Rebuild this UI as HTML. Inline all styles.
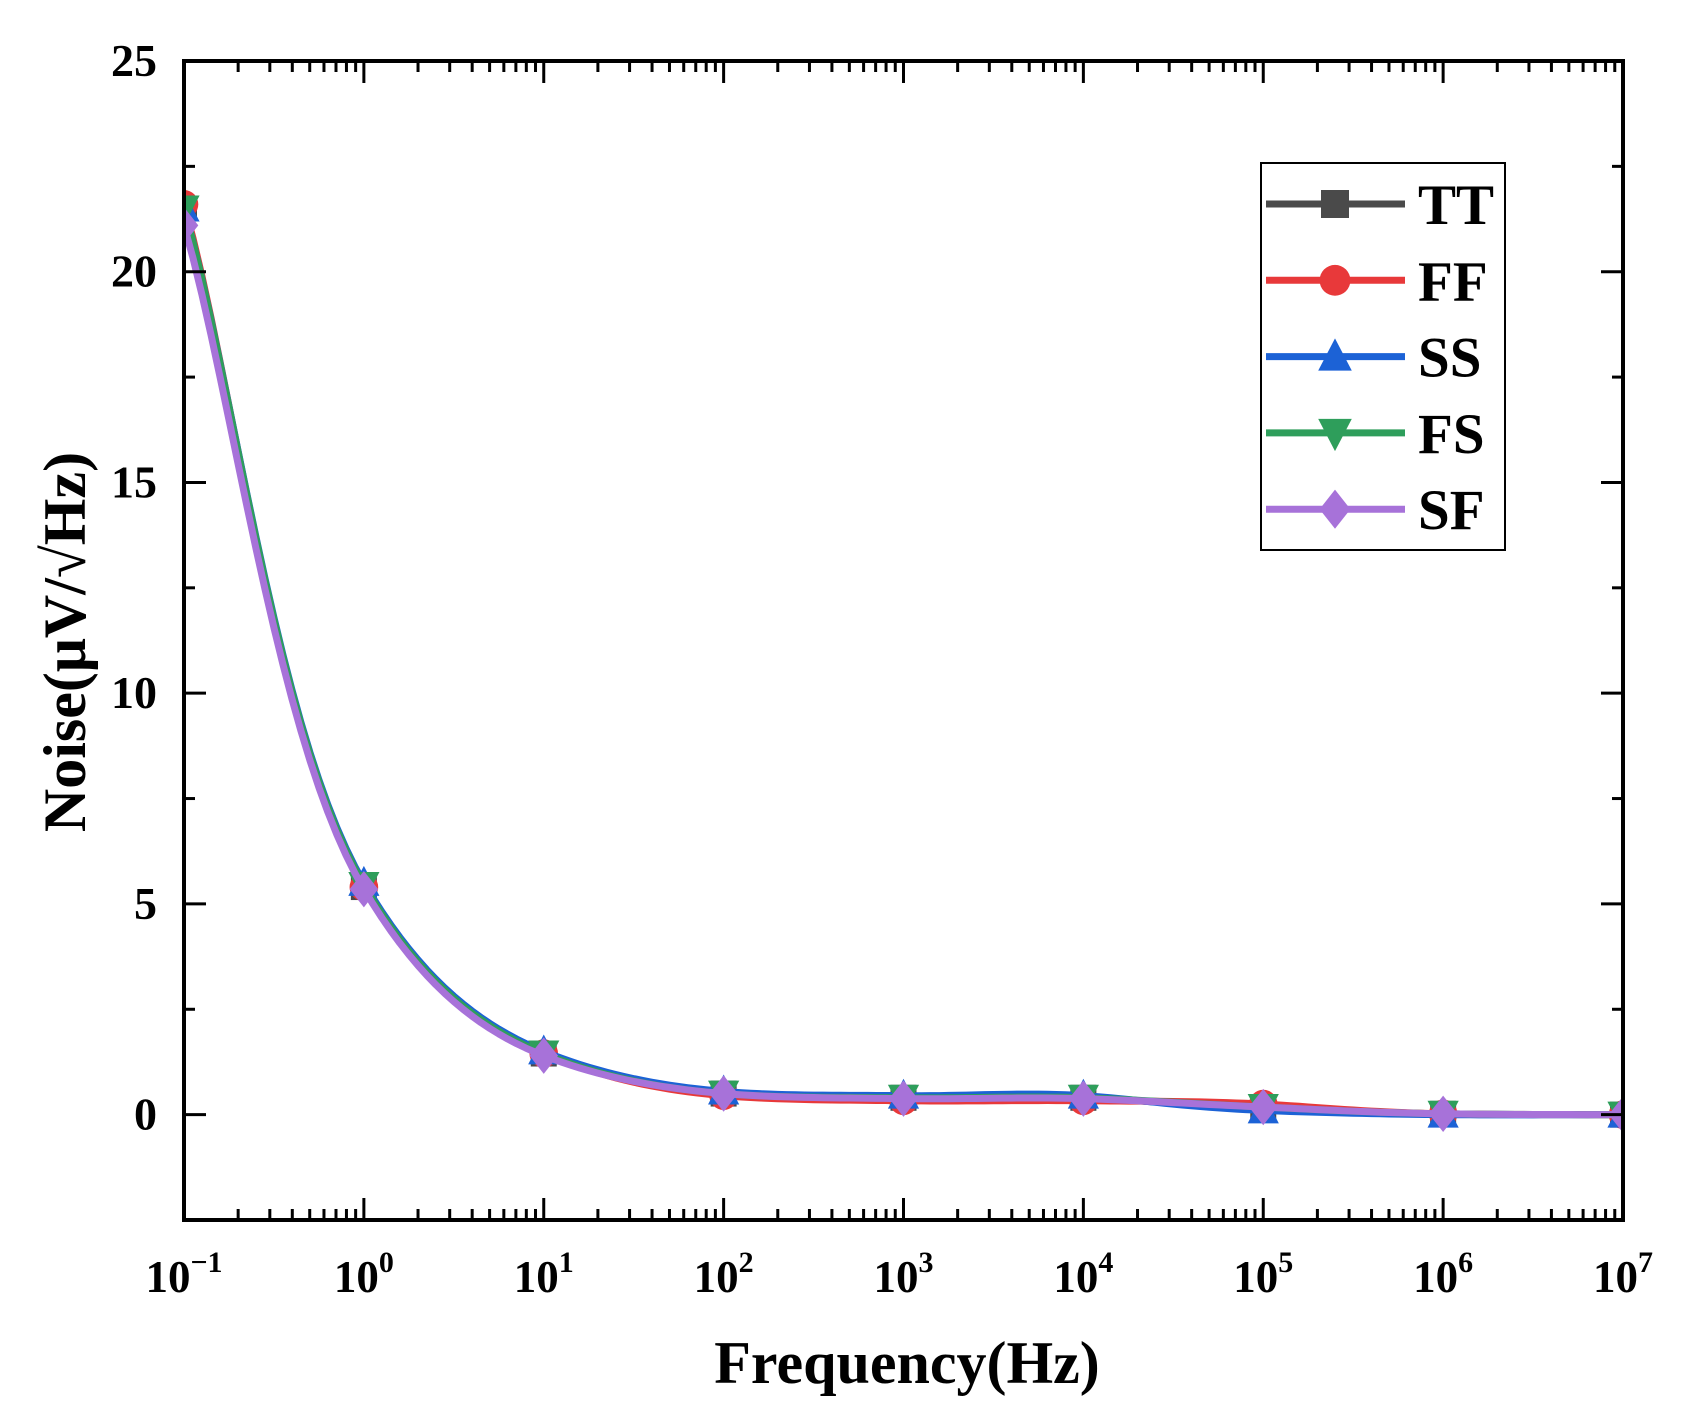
<!DOCTYPE html>
<html><head><meta charset="utf-8"><style>
html,body{margin:0;padding:0;background:#fff;}
svg text{font-family:"Liberation Serif",serif;font-weight:bold;fill:#000;}
</style></head><body>
<svg id="chart" width="1685" height="1423" viewBox="0 0 1685 1423" xmlns="http://www.w3.org/2000/svg">
<g id="marks"></g>
<g id="axes"></g>
<g id="legend"></g>
</svg>
<script>
const freqExp = [-1,0,1,2,3,4,5,6,7];
const seriesNames = ["TT","FF","SS","FS","SF"];
const seriesColors = ["#4a4a4a","#e8393a","#1c62d6","#2e9e5b","#a772d9"];
const valsTT = [21.5,5.4,1.45,0.5,0.4,0.4,0.15,0.02,0];
const valsFF = [21.6,5.4,1.45,0.45,0.33,0.33,0.25,0.02,0];
const valsSS = [21.5,5.5,1.5,0.55,0.45,0.45,0.1,0.0,0];
const valsFS = [21.5,5.45,1.45,0.5,0.4,0.4,0.18,0.02,0];
const valsSF = [21.1,5.35,1.4,0.5,0.38,0.38,0.18,0.02,0];
const yTicks = [0,5,10,15,20,25];
const yTickLabels = ["0","5","10","15","20","25"];

const NS="http://www.w3.org/2000/svg";
const L=184,R=1623,T=61,B=1220, XMIN=-1,XMAX=7,YMIN=-2.5,YMAX=25;
const xs=e=>L+(e-XMIN)/(XMAX-XMIN)*(R-L);
const ys=v=>B-(v-YMIN)/(YMAX-YMIN)*(B-T);
function mk(tag,attrs,parent){const el=document.createElementNS(NS,tag);for(const k in attrs)el.setAttribute(k,attrs[k]);parent.appendChild(el);return el;}
const marks=document.getElementById('marks'),axes=document.getElementById('axes'),leg=document.getElementById('legend');

function marker(type,cx,cy,color,parent,s){
  let el;
  if(type===0) el=mk('rect',{x:cx-s,y:cy-s,width:2*s,height:2*s,fill:color},parent);
  else if(type===1) el=mk('circle',{cx:cx,cy:cy,r:s*1.1,fill:color},parent);
  else if(type===2) el=mk('polygon',{points:`${cx},${cy-s*1.3} ${cx-s*1.2},${cy+s} ${cx+s*1.2},${cy+s}`,fill:color},parent);
  else if(type===3) el=mk('polygon',{points:`${cx},${cy+s*1.3} ${cx-s*1.2},${cy-s} ${cx+s*1.2},${cy-s}`,fill:color},parent);
  else el=mk('polygon',{points:`${cx},${cy-s*1.4} ${cx-s*1.1},${cy} ${cx},${cy+s*1.4} ${cx+s*1.1},${cy}`,fill:color},parent);
  return el;
}
const fw=v=>Math.log(v+0.15), bw=u=>Math.exp(u)-0.15;
function curve(xsArr,vals){
  const u=vals.map(fw);let d='';
  for(let i=0;i<u.length-1;i++){
    const p0=u[Math.max(0,i-1)],p1=u[i],p2=u[i+1],p3=u[Math.min(u.length-1,i+2)];
    for(let k=0;k<=20;k++){
      const t=k/20,t2=t*t,t3=t2*t;
      const val=0.5*((2*p1)+(-p0+p2)*t+(2*p0-5*p1+4*p2-p3)*t2+(-p0+3*p1-3*p2+p3)*t3);
      const x=xsArr[i]+(xsArr[i+1]-xsArr[i])*t;
      d+=(d?' L':'M')+xs(x).toFixed(2)+','+ys(bw(val)).toFixed(2);
    }
  }
  return d;
}
const allVals=[valsTT,valsFF,valsSS,valsFS,valsSF];
mk('clipPath',{id:'clip'},marks);
mk('rect',{x:L,y:T,width:R-L,height:B-T},document.getElementById('clip'));
allVals.forEach((vals,si)=>{
  const g=mk('g',{'clip-path':'url(#clip)'},marks);
  
  
  const p=mk('path',{d:curve(freqExp,vals),fill:'none',stroke:seriesColors[si],'stroke-width':7,'stroke-linejoin':'round'},g);
  
  
  freqExp.forEach((e,i)=>{
    const m=marker(si,xs(e),ys(vals[i]),seriesColors[si],g,13);
    
    
  });
});
const fr=mk('rect',{x:L,y:T,width:R-L,height:B-T,fill:'none',stroke:'#000','stroke-width':4},axes);


for(let e=XMIN;e<=XMAX;e++){
  const x=xs(e);
  mk('line',{x1:x,y1:B,x2:x,y2:B-22,stroke:'#000','stroke-width':3},axes);
  mk('line',{x1:x,y1:T,x2:x,y2:T+22,stroke:'#000','stroke-width':3},axes);
  const t=mk('text',{x:x,y:1292,'font-size':45,'text-anchor':'middle'},axes);
  
  
  t.textContent='10';
  const s=mk('tspan',{dy:-20,'font-size':30},t);s.textContent=(e<0?'\u2212':'')+Math.abs(e);
  if(e<XMAX){for(let k=2;k<=9;k++){const xm=xs(e+Math.log10(k));
    mk('line',{x1:xm,y1:B,x2:xm,y2:B-11,stroke:'#000','stroke-width':3},axes);
    mk('line',{x1:xm,y1:T,x2:xm,y2:T+11,stroke:'#000','stroke-width':3},axes);}}
}
for(let v=-2.5;v<=25;v+=2.5){
  const y=ys(v);const maj=(v%5===0);const len=maj?22:11;
  mk('line',{x1:L,y1:y,x2:L+len,y2:y,stroke:'#000','stroke-width':3},axes);
  mk('line',{x1:R,y1:y,x2:R-len,y2:y,stroke:'#000','stroke-width':3},axes);
}
yTicks.forEach((v,i)=>{
  const t=mk('text',{x:157,y:ys(v)+15,'font-size':46,'text-anchor':'end'},axes);
  
  
  t.textContent=yTickLabels[i];
});
const xt=mk('text',{x:907,y:1383,'font-size':60,'text-anchor':'middle'},axes);

xt.textContent='Frequency(Hz)';
const yt=mk('text',{x:0,y:0,'font-size':60,'text-anchor':'middle',transform:'translate(85,642) rotate(-90)'},axes);

yt.textContent='Noise(\u03BCV/\u221AHz)';
const lb=mk('rect',{x:1261,y:163,width:244,height:387,fill:'#fff',stroke:'#000','stroke-width':2},leg);

seriesNames.forEach((n,i)=>{
  const y=204+i*76.3;
  const g=mk('g',{},leg);
  
  
  mk('line',{x1:1266,y1:y,x2:1405,y2:y,stroke:seriesColors[i],'stroke-width':7},g);
  marker(i,1335,y,seriesColors[i],g,14);
  const t=mk('text',{x:1418,y:y+20,'font-size':57},g);t.textContent=n;
});
</script>
</body></html>
